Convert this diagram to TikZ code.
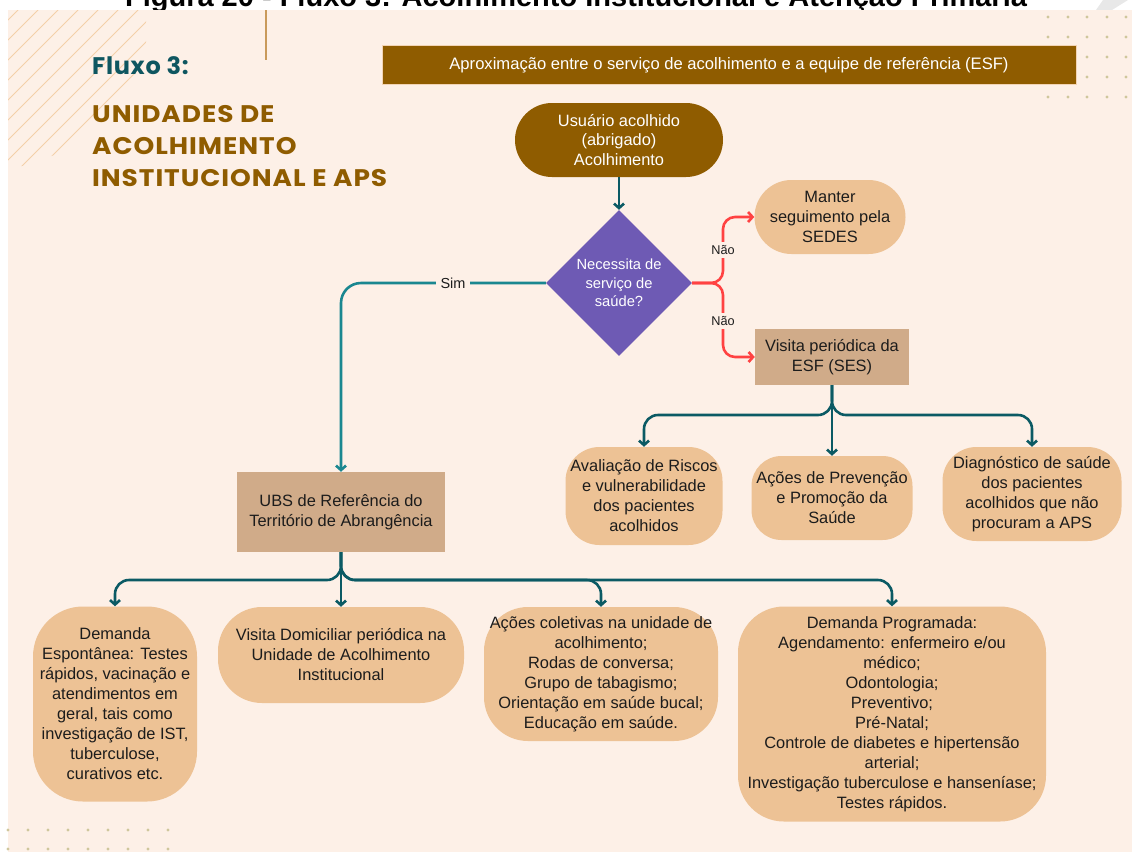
\documentclass[tikz,border=0pt]{standalone}
\usepackage{fontspec}
\setmainfont{Liberation Sans}
\newfontfamily\headfont{Poppins}[LetterSpace=3]
\newfontfamily\headfontwide{Poppins}[FakeStretch=1.1,LetterSpace=4]
\usetikzlibrary{arrows.meta,shapes.geometric}

\definecolor{bg}{HTML}{FDF0E7}
\definecolor{cBrown}{HTML}{8F5C00}
\definecolor{cPeach}{HTML}{EDC295}
\definecolor{cTan}{HTML}{D0AB89}
\definecolor{cPurple}{HTML}{6E5AB4}
\definecolor{cTealDark}{HTML}{0B5A64}
\definecolor{cTeal}{HTML}{1A8790}
\definecolor{cRed}{HTML}{FF4242}
\definecolor{cHatch}{HTML}{F4CFA8}
\definecolor{cDot}{HTML}{CFC79C}
\definecolor{cFluxo}{HTML}{0E5660}
\definecolor{cText}{HTML}{1C1C1C}
\definecolor{cRule}{HTML}{C99A5B}

\tikzset{
  every node/.style={inner sep=0pt, align=center, text=cText,
    font=\fontsize{16.4}{20}\selectfont},
  pill/.style={fill=cPeach, draw=none},
  tanbox/.style={fill=cTan, draw=none},
  arrowtip/.style={-{Straight Barb[length=4.5pt,width=10pt]}},
  flow/.style={draw=cTealDark, line width=2.6pt, rounded corners=14pt, arrowtip},
  simflow/.style={draw=cTeal, line width=2.6pt, rounded corners=20pt, arrowtip},
  noflow/.style={draw=cRed, line width=2.6pt, rounded corners=12pt, arrowtip},
  branchlabel/.style={fill=bg, inner sep=3pt, font=\fontsize{12.7}{14}\selectfont},
  dot/.style={fill=cDot, draw=none},
  heading/.style={anchor=base west, text=cBrown, font=\headfontwide\bfseries\fontsize{24}{28}\selectfont},
}

\begin{document}
\begin{tikzpicture}[x=1pt,y=-1pt]
\useasboundingbox (0,0) rectangle (1132,852);

% page header line, partly hidden behind the panel
\node[anchor=base, text=black, font=\fontsize{29}{32}\selectfont\bfseries]
  (caption) at (576,6) {Figura 20 - Fluxo 3: Acolhimento Institucional e Aten\c{c}\~ao Prim\'aria};
\fill[gray!18] (1103,0) -- (1128,0) -- (1112,10) -- (1096,10) -- cycle;

% background panel
\fill[bg] (8,9.5) rectangle (1132,852);

% diagonal hatching, upper left
\begin{scope}
  \clip (8,10) -- (146,10) -- (146,45) -- (127,100) -- (78,147) -- (22,166) -- (8,168) -- cycle;
  \foreach \c in {28,48,...,288}
    \draw[cHatch, line width=1pt] (\c-220,220) -- (\c,0);
\end{scope}

% thin vertical rule
\draw[cRule, line width=1.5pt] (266,10) -- (266,60);

% dot grids
\foreach \x in {1048,1068,1087,1107,1126}
  \foreach \y in {17,37,57,77,97}
    \fill[dot] (\x,\y) circle (1.6);
\foreach \x in {8,28,...,168}
  \foreach \y in {830,849}
    \fill[dot] (\x,\y) circle (1.6);

% headings
\node[anchor=base west, text=cFluxo, font=\headfont\bfseries\fontsize{24}{28}\selectfont]
  (fluxo) at (92,74) {Fluxo 3:};
\node[heading] (t1) at (92,122) {UNIDADES DE};
\node[heading] (t2) at (92,154) {ACOLHIMENTO};
\node[heading] (t3) at (92,186) {INSTITUCIONAL E APS};

% banner
\node[fill=cBrown, draw=cPeach!70!white, line width=0.6pt, minimum width=694, minimum height=39,
  text=white, font=\fontsize{16.6}{20}\selectfont] (banner) at (729,65)
  {Aproxima\c{c}\~ao entre o servi\c{c}o de acolhimento e a equipe de refer\^encia (ESF)};

% main flow
\node[fill=cBrown, rounded corners=37, minimum width=208, minimum height=74,
  text=white, font=\fontsize{16.4}{19.5}\selectfont] (start) at (619,140)
  {Usu\'ario acolhido\\(abrigado)\\Acolhimento};

\node[diamond, aspect=1, fill=cPurple, minimum width=146, minimum height=146,
  text=white, font=\fontsize{14.7}{18.5}\selectfont] (need) at (619,283)
  {Necessita de\\servi\c{c}o de\\sa\'ude?};

\node[pill, rounded corners=37, minimum width=151, minimum height=74] (sedes) at (830,217)
  {Manter\\seguimento pela\\SEDES};

\node[tanbox, minimum width=154, minimum height=56] (esf) at (832,357)
  {Visita peri\'odica da\\ESF (SES)};

\node[tanbox, minimum width=208, minimum height=80] (ubs) at (341,512)
  {UBS de Refer\^encia do\\Territ\'orio de Abrang\^encia};

% ESF actions
\node[pill, rounded corners=34, minimum width=157, minimum height=98] (aval) at (644,496)
  {Avalia\c{c}\~ao de Riscos\\e vulnerabilidade\\dos pacientes\\acolhidos};
\node[pill, rounded corners=30, minimum width=161, minimum height=84] (prev) at (832,498)
  {A\c{c}\~oes de Preven\c{c}\~ao\\e Promo\c{c}\~ao da\\Sa\'ude};
\node[pill, rounded corners=34, minimum width=179, minimum height=94] (diag) at (1032,494)
  {Diagn\'ostico de sa\'ude\\dos pacientes\\acolhidos que n\~ao\\procuram a APS};

% UBS actions
\node[pill, rounded corners=50, minimum width=164, minimum height=195] (esp) at (115,704)
  {Demanda\\Espont\^anea: Testes\\r\'apidos, vacina\c{c}\~ao e\\atendimentos em\\geral, tais como\\investiga\c{c}\~ao de IST,\\tuberculose,\\curativos etc.};
\node[pill, rounded corners=44, minimum width=246, minimum height=96] (dom) at (341,655)
  {Visita Domiciliar peri\'odica na\\Unidade de Acolhimento\\Institucional};
\node[pill, rounded corners=44, minimum width=234, minimum height=134] (col) at (601,674)
  {A\c{c}\~oes coletivas na unidade de\\acolhimento;\\Rodas de conversa;\\Grupo de tabagismo;\\Orienta\c{c}\~ao em sa\'ude bucal;\\Educa\c{c}\~ao em sa\'ude.};
\node[pill, rounded corners=46, minimum width=308, minimum height=215] (prog) at (892,714)
  {Demanda Programada:\\Agendamento: enfermeiro e/ou\\m\'edico;\\Odontologia;\\Preventivo;\\Pr\'e-Natal;\\Controle de diabetes e hipertens\~ao\\arterial;\\Investiga\c{c}\~ao tuberculose e hansen\'iase;\\Testes r\'apidos.};

% connectors
\draw[flow] (start.south) -- (need.north);

\coordinate (simturn) at (ubs.north |- need.west);
\draw[simflow] (need.west) -- (simturn) -- (ubs.north);
\node[branchlabel, font=\fontsize{14.5}{16}\selectfont, inner sep=5pt] (sim) at (453,283) {Sim};

\coordinate (nofork) at (723,283);
\draw[noflow] (need.east) -- (nofork) |- (sedes.west);
\draw[noflow] (need.east) -- (nofork) |- (esf.west);
\node[branchlabel] (nao1) at (723,250) {N\~ao};
\node[branchlabel] (nao2) at (723,321) {N\~ao};

\coordinate (esfbus) at (832,415);
\draw[flow] (esf.south) -- (esfbus) -| (aval.north);
\draw[flow] (esf.south) -- (prev.north);
\draw[flow] (esf.south) -- (esfbus) -| (diag.north);

\coordinate (ubsbus) at (341,580);
\draw[flow] (ubs.south) -- (ubsbus) -| (esp.north);
\draw[flow] (ubs.south) -- (dom.north);
\draw[flow] (ubs.south) -- (ubsbus) -| (col.north);
\draw[flow] (ubs.south) -- (ubsbus) -| (prog.north);
\end{tikzpicture}
\end{document}
